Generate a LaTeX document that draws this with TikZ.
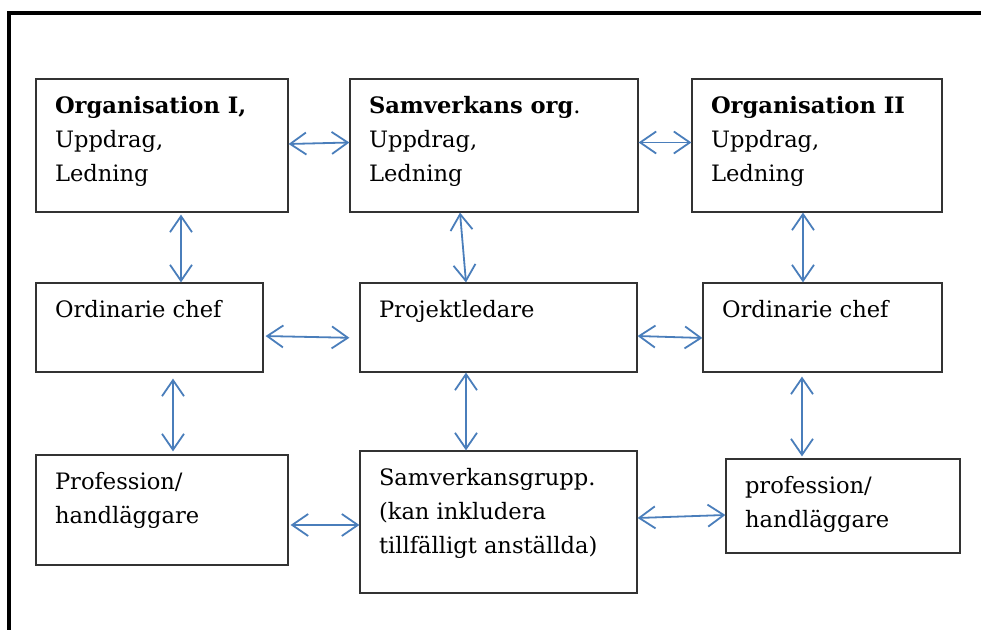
\documentclass[tikz,border=0pt]{standalone}
\usepackage{fontspec}
\setmainfont{DejaVu Serif}
\usetikzlibrary{arrows.meta}
\definecolor{linkblue}{HTML}{4A7EBB}

\begin{document}
\begin{tikzpicture}[x=0.5pt,y=-0.5pt,
    txt/.style={anchor=north west, align=left, inner sep=0pt, xshift=9.5pt, yshift=-8.5pt,
      font=\fontsize{11.3}{17}\selectfont},
    link/.style={draw=linkblue, line width=0.9pt, {Straight Barb[length=8pt,width=11pt]}-{Straight Barb[length=8pt,width=11pt]}}]

        \clip (0,0) rectangle (981,630);
        \draw[line width=2pt] (9,700) -- (9,13) -- (1000,13);

        \begin{scope}[every node/.style={draw=black!80, line width=0.6pt, rectangle, inner sep=0pt}]
          \node[minimum width=126pt, minimum height=66.5pt, label={[txt]north west:{\textbf{Organisation I,}\\Uppdrag,\\Ledning}}] (o1) at (162,145.5) {};
          \node[minimum width=144pt, minimum height=66.5pt, label={[txt]north west:{\textbf{Samverkans org}.\\Uppdrag,\\Ledning}}] (so) at (494,145.5) {};
          \node[minimum width=125pt, minimum height=66.5pt, label={[txt]north west:{\textbf{Organisation II}\\Uppdrag,\\Ledning}}] (o2) at (817,145.5) {};
          \node[minimum width=113.5pt, minimum height=44.5pt, label={[txt]north west:{Ordinarie chef}}] (c1) at (149.5,327.5) {};
          \node[minimum width=138.5pt, minimum height=44.5pt, label={[txt]north west:{Projektledare}}] (pl) at (498.5,327.5) {};
          \node[minimum width=119.5pt, minimum height=44.5pt, label={[txt]north west:{Ordinarie chef}}] (c2) at (822.5,327.5) {};
          \node[minimum width=126pt, minimum height=55pt, label={[txt]north west:{Profession/\\handläggare}}] (p1) at (162,510) {};
          \node[minimum width=138.5pt, minimum height=71pt, label={[txt]north west:{Samverkansgrupp.\\(kan inkludera\\tillfälligt anställda)}}] (sg) at (498.5,522) {};
          \node[minimum width=117pt, minimum height=47pt, label={[txt]north west:{profession/\\handläggare}}] (p2) at (843,506) {};
        \end{scope}

        \begin{scope}[every edge/.style={link}]
          \path ([yshift=0.75pt]o1.east) edge ([yshift=1.5pt]so.west);
          \path ([yshift=1.5pt]so.east) edge ([yshift=1.5pt]o2.west);
          \path ([xshift=9.5pt]o1.south) edge[shorten <=1pt] ([xshift=15.75pt]c1.north);
          \path ([xshift=-17pt]so.south) edge ([xshift=-16.25pt]pl.north);
          \path ([xshift=-7pt]o2.south) edge ([xshift=-9.75pt]c2.north);
          \path ([yshift=-4.25pt]c1.east) edge[shorten <=1pt, shorten >=5pt] ([yshift=-5.25pt]pl.west);
          \path ([yshift=-4.25pt]pl.east) edge ([yshift=-5.25pt]c2.west);
          \path ([xshift=11.75pt]c1.south) edge[shorten <=3pt, shorten >=1.5pt] ([xshift=5.5pt]p1.north);
          \path ([xshift=-16.25pt]pl.south) edge ([xshift=-16.25pt]sg.north);
          \path ([xshift=-10.25pt]c2.south) edge[shorten <=2pt, shorten >=1pt] ([xshift=-20.5pt]p2.north);
          \path ([yshift=-7.5pt]p1.east) edge[shorten <=1pt] ([yshift=-1.5pt]sg.west);
          \path ([yshift=2pt]sg.east) edge ([yshift=-4.5pt]p2.west);
        \end{scope}

      \end{tikzpicture}
\end{document}
